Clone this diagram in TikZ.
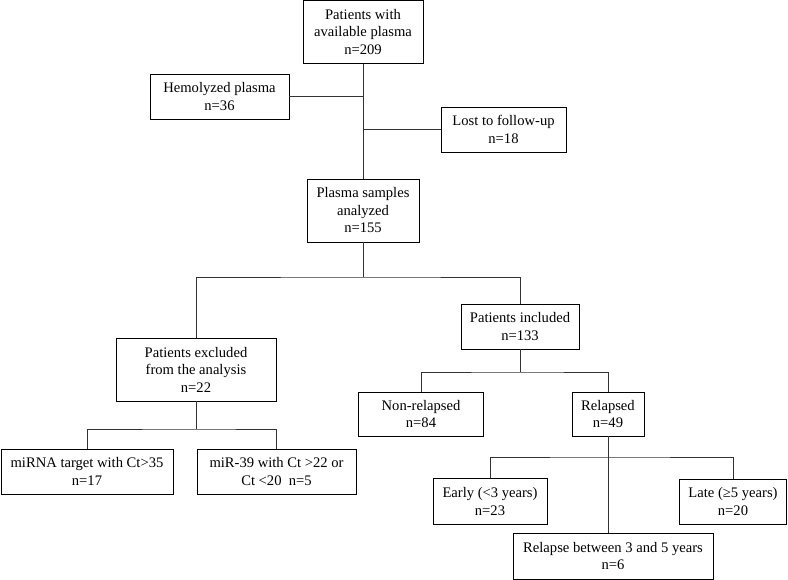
\documentclass[tikz,border=0pt]{standalone}
\usepackage{fontspec}
\setmainfont{Liberation Serif}
\usetikzlibrary{positioning}

\begin{document}
\begin{tikzpicture}[
    x=1pt,y=-1pt,
    box/.style={draw,line width=.8pt,align=center,inner sep=0pt,
      minimum height=45pt,font=\fontsize{14.6}{17.5}\selectfont},
    tallbox/.style={box,minimum height=63pt},
    link/.style={line width=.9pt,draw=black!80}
  ]
    \useasboundingbox (0,0) rectangle (788,580);
    \node[tallbox,minimum width=120pt] (avail) at (363,32) {Patients with\\available plasma\\n=209};
    \node[box,minimum width=139pt] (hemo) at (219.5,96.5) {Hemolyzed plasma\\n=36};
    \node[box,minimum width=125pt] (lost) at (503.5,129.5) {Lost to follow-up\\n=18};
    \node[tallbox,minimum width=112pt] (plasma) at (363,210.5) {Plasma samples\\analyzed\\n=155};
    \node[tallbox,minimum width=160pt] (excl) at (196,369.5) {Patients excluded\\from the analysis\\n=22};
    \node[box,minimum width=118pt] (incl) at (520,326.5) {Patients included\\n=133};
    \node[box,minimum width=172pt] (mirna) at (87,471.5) {miRNA target with Ct>35\\n=17};
    \node[box,minimum width=159pt] (mircontrol) at (276.5,471.5) {miR-39 with Ct >22 or\\Ct <20\ \ n=5};
    \node[box,minimum width=125pt,minimum height=44pt] (nonrel) at (421,414) {Non-relapsed\\n=84};
    \node[box,minimum width=72pt,minimum height=44pt] (rel) at (608,414) {Relapsed\\n=49};
    \node[box,minimum width=114pt,minimum height=46pt] (early) at (490,501.5) {Early (<3 years)\\n=23};
    \node[box,minimum width=107pt] (late) at (733,501.5) {Late (≥5 years)\\n=20};
    \node[box,minimum width=200pt,minimum height=46pt] (between) at (613,556) {Relapse between 3 and 5 years\\n=6};

    \coordinate (split) at (363,277);
    \coordinate (xsplit) at (196,429);
    \coordinate (isplit) at (520,372);
    \coordinate (rsplit) at (608,457);

    \draw[link] (avail) -- (plasma);
    \draw[link] (hemo.east) -- (hemo.east -| avail.south);
    \draw[link] (lost.west -| avail.south) -- (lost.west);
    \draw[link] (plasma) -- (split);
    \draw[link] (excl.north) |- (split) -| (incl.north);
    \draw[link] (excl) -- (xsplit);
    \draw[link] (mirna.north) |- (xsplit) -| (mircontrol.north);
    \draw[link] (incl) -- (isplit);
    \draw[link] (nonrel.north) |- (isplit) -| (rel.north);
    \draw[link] (rel.south) -- (rel.south |- between.north);
    \draw[link] (early.north) |- (rsplit) -| (late.north);
  \end{tikzpicture}
\end{document}
